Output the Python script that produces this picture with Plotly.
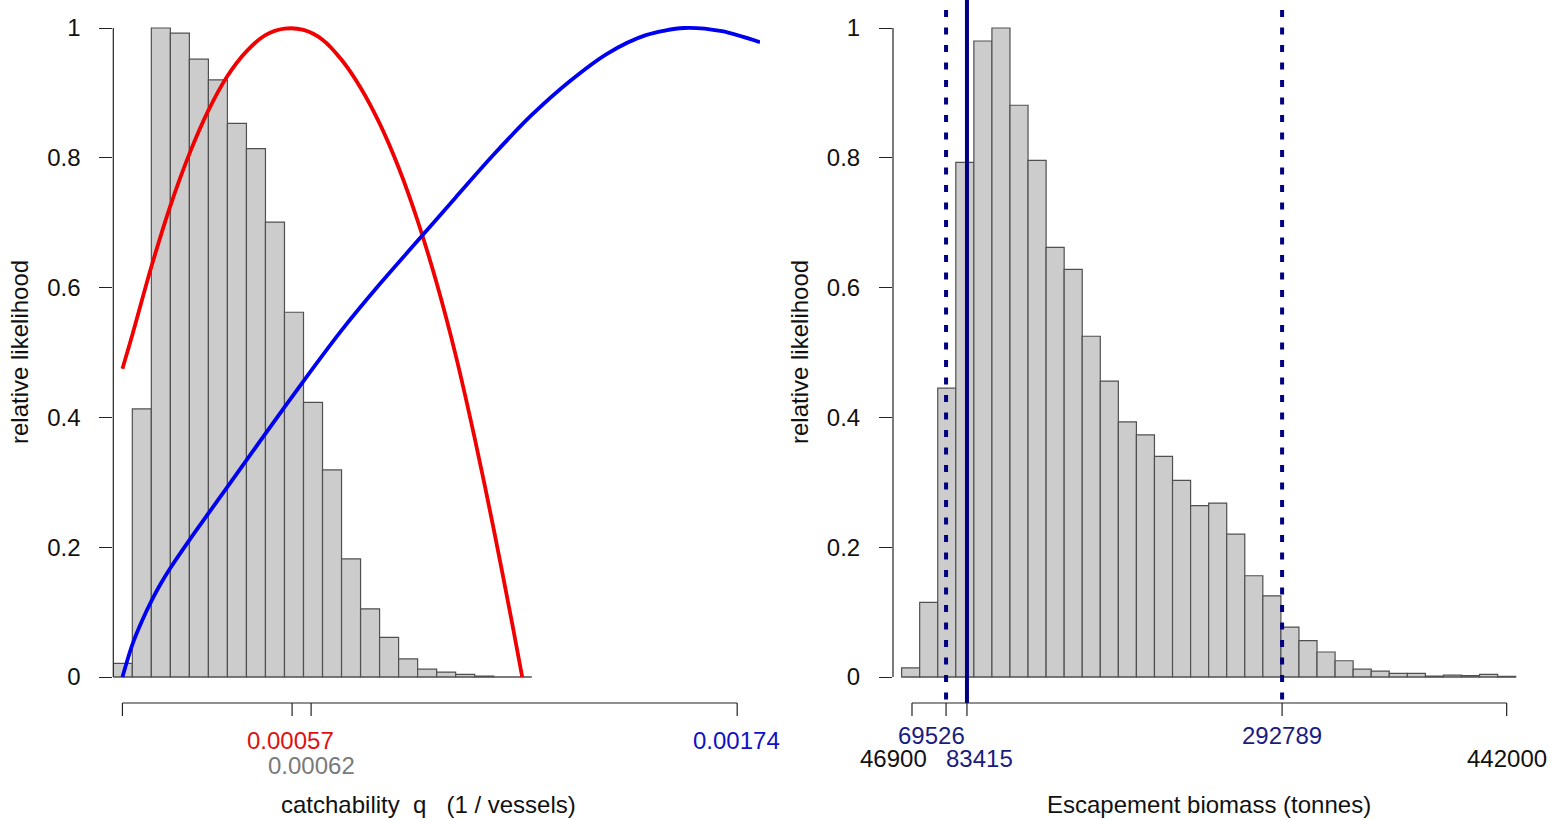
import plotly.graph_objects as go

W, H = 1550, 820

# ---------------- Left panel data: catchability q ----------------
q_bin_start = 0.0001
q_bin_width = 0.00005
q_hist = [0.021, 0.413, 1.0, 0.992, 0.952, 0.920, 0.853, 0.814, 0.701, 0.562,
          0.423, 0.319, 0.182, 0.105, 0.061, 0.028, 0.012, 0.0076, 0.004, 0.0014,
          0.0, 0.0]

red_q = [0.000124, 0.00015, 0.0002, 0.00025, 0.0003, 0.00035, 0.0004, 0.00045,
         0.0005, 0.00055, 0.0006, 0.00065, 0.0007, 0.00075, 0.0008, 0.00085,
         0.0009, 0.00095, 0.001, 0.00105, 0.0011, 0.00115, 0.001175]
red_v = [0.475, 0.527, 0.632, 0.726, 0.806, 0.873, 0.926, 0.964,
         0.989, 0.999, 0.997, 0.982, 0.951, 0.908, 0.853, 0.785,
         0.703, 0.607, 0.496, 0.368, 0.228, 0.078, 0.0]

blue_q = [0.000124, 0.00015, 0.000175, 0.0002, 0.000225, 0.00025, 0.0003, 0.00035,
          0.0004, 0.0005, 0.0006, 0.0007, 0.0008, 0.0009, 0.001, 0.0011,
          0.0012, 0.0013, 0.0014, 0.0015, 0.0016, 0.0017, 0.0018]
blue_v = [0.0, 0.05, 0.086, 0.117, 0.144, 0.168, 0.211, 0.252,
          0.293, 0.375, 0.456, 0.534, 0.605, 0.672, 0.739, 0.805,
          0.866, 0.918, 0.961, 0.989, 1.0, 0.995, 0.978]

q_ticks = [0.000124, 0.00057, 0.00062, 0.00174]
q_labels = ["0.00057", "0.00062", "0.00174"]
q_label_vals = [0.00057, 0.00062, 0.00174]
q_label_colors = ["#E01010", "#7a7a7a", "#1010C8"]
q_label_rows = [1, 2, 1]
q_label_shift = [-2, 0, -1]

# ---------------- Right panel data: escapement biomass ----------------
b_bin_start = 40000
b_bin_width = 12000
b_hist = [0.014, 0.115, 0.445, 0.793, 0.980, 1.0, 0.881, 0.796, 0.662, 0.628,
          0.525, 0.456, 0.393, 0.373, 0.340, 0.303, 0.264, 0.268, 0.220, 0.156,
          0.125, 0.077, 0.056, 0.0385, 0.025, 0.012, 0.009, 0.0055, 0.0055, 0.0014,
          0.003, 0.002, 0.004, 0.001]

b_ci = [69526, 292789]
b_mode = 83415
b_ticks = [46900, 69526, 83415, 292789, 442000]
b_labels = ["46900", "69526", "83415", "292789", "442000"]
b_label_colors = ["#111111", "#1c1c80", "#1c1c80", "#1c1c80", "#111111"]
b_label_rows = [2, 1, 2, 1, 2]
b_label_shift = [-19, -15, 13, 0, 0]

y_ticks = [0, 0.2, 0.4, 0.6, 0.8, 1]
y_ticktext = ["0", "0.2", "0.4", "0.6", "0.8", "1"]

# ---------------- layout geometry (pixels) ----------------
FONT = "Liberation Sans, Arial, sans-serif"
FS = 24
AX = "#222222"
y_px0 = 677.0           # pixel of y=0
y_px1 = 28.0            # pixel of y=1
ppu = y_px0 - y_px1
dom_bottom_px = 720.0
y_range = [(y_px0 - dom_bottom_px) / ppu, y_px0 / ppu]
y_dom = [1 - dom_bottom_px / H, 1]

L_px = [113.3, 760.0]
R_px = [893.0, 1530.0]
L_range = [0.0001, 0.0018]
R_range = [34276, 457500]

def py(p):
    return 1 - p / H

fig = go.Figure()

# left histogram
q_edges = [q_bin_start + i * q_bin_width for i in range(len(q_hist) + 1)]
q_centers = [(q_edges[i] + q_edges[i + 1]) / 2 for i in range(len(q_hist))]
fig.add_trace(go.Bar(x=q_centers, y=q_hist, width=q_bin_width,
                     marker=dict(color="#CCCCCC", line=dict(color="#505050", width=1.2)),
                     xaxis="x", yaxis="y", showlegend=False))
fig.add_trace(go.Scatter(x=[q_edges[0], q_edges[-1]], y=[0, 0], mode="lines",
                         line=dict(color="#505050", width=1.2),
                         xaxis="x", yaxis="y", showlegend=False))
fig.add_trace(go.Scatter(x=red_q, y=red_v, mode="lines",
                         line=dict(color="#F00000", width=3.8, shape="spline", smoothing=0.8),
                         xaxis="x", yaxis="y", showlegend=False))
fig.add_trace(go.Scatter(x=blue_q, y=blue_v, mode="lines",
                         line=dict(color="#0000F0", width=3.8, shape="spline", smoothing=0.8),
                         xaxis="x", yaxis="y", showlegend=False))

# right histogram
b_edges = [b_bin_start + i * b_bin_width for i in range(len(b_hist) + 1)]
b_centers = [(b_edges[i] + b_edges[i + 1]) / 2 for i in range(len(b_hist))]
fig.add_trace(go.Bar(x=b_centers, y=b_hist, width=b_bin_width,
                     marker=dict(color="#CCCCCC", line=dict(color="#505050", width=1.2)),
                     xaxis="x2", yaxis="y2", showlegend=False))
fig.add_trace(go.Scatter(x=[b_edges[0], b_edges[-1]], y=[0, 0], mode="lines",
                         line=dict(color="#505050", width=1.2),
                         xaxis="x2", yaxis="y2", showlegend=False))
for v in b_ci:
    fig.add_trace(go.Scatter(x=[v, v], y=[(y_px0 - 10) / ppu, (y_px0 - 708) / ppu],
                             mode="lines",
                             line=dict(color="#000080", width=4, dash="7px,10.5px"),
                             xaxis="x2", yaxis="y2", showlegend=False))
fig.add_trace(go.Scatter(x=[b_mode, b_mode], y=[y_px0 / ppu, (y_px0 - 703) / ppu],
                         mode="lines", line=dict(color="#000080", width=4),
                         xaxis="x2", yaxis="y2", showlegend=False))

shapes = []
annotations = []

def x_axis(xref, ticks, ax_px=703, tick_len=13):
    shapes.append(dict(type="line", xref=xref, yref="paper",
                       x0=ticks[0], x1=ticks[-1], y0=py(ax_px), y1=py(ax_px),
                       line=dict(color=AX, width=1.2)))
    for t in ticks:
        shapes.append(dict(type="line", xref=xref, yref="paper",
                           x0=t, x1=t, y0=py(ax_px), y1=py(ax_px + tick_len),
                           line=dict(color=AX, width=1.2)))

x_axis("x", q_ticks)
x_axis("x2", b_ticks)

# y axis lines (span 0..1 only, R style)
for xp, yref in [(L_px[0], "y"), (R_px[0], "y2")]:
    shapes.append(dict(type="line", xref="paper", yref=yref,
                       x0=xp / W, x1=xp / W, y0=0, y1=1,
                       line=dict(color=AX, width=1.2)))

row_px = {1: 740, 2: 765}
for lab, v, c, r, s in zip(q_labels, q_label_vals, q_label_colors, q_label_rows, q_label_shift):
    annotations.append(dict(text=lab, x=v, y=py(row_px[r]), xref="x", yref="paper",
                            xanchor="center", yanchor="middle", showarrow=False,
                            xshift=s, borderpad=0,
                            font=dict(family=FONT, size=FS, color=c)))
row_px_b = {1: 735, 2: 758}
for lab, v, c, r, s in zip(b_labels, b_ticks, b_label_colors, b_label_rows, b_label_shift):
    annotations.append(dict(text=lab, x=v, y=py(row_px_b[r]), xref="x2", yref="paper",
                            xanchor="center", yanchor="middle", showarrow=False,
                            xshift=s, borderpad=0,
                            font=dict(family=FONT, size=FS, color=c)))

NB = "\u00a0"
annotations.append(dict(text="catchability" + NB * 2 + "q" + NB * 3 + "(1 / vessels)",
                        x=428 / W, y=py(804), xref="paper", yref="paper",
                        xanchor="center", yanchor="middle", showarrow=False,
                        font=dict(family=FONT, size=FS, color="#111111")))
annotations.append(dict(text="Escapement biomass (tonnes)",
                        x=1209 / W, y=py(804), xref="paper", yref="paper",
                        xanchor="center", yanchor="middle", showarrow=False,
                        font=dict(family=FONT, size=FS, color="#111111")))
for xp in [20, 800]:
    annotations.append(dict(text="relative likelihood", x=xp / W, y=py(352),
                            xref="paper", yref="paper", textangle=-90,
                            xanchor="center", yanchor="middle", showarrow=False,
                            font=dict(family=FONT, size=FS, color="#111111")))

yax_common = dict(range=y_range, domain=y_dom, tickvals=y_ticks, ticktext=y_ticktext,
                  ticks="outside", ticklen=13, tickwidth=1.2, tickcolor=AX,
                  showline=False, showgrid=False, zeroline=False,
                  ticklabelstandoff=14,
                  tickfont=dict(family=FONT, size=FS, color="#111111"))
xax_common = dict(showline=False, showgrid=False, zeroline=False,
                  showticklabels=False, ticks="")

fig.update_layout(
    width=W, height=H,
    margin=dict(l=0, r=0, t=0, b=0),
    paper_bgcolor="white", plot_bgcolor="white",
    showlegend=False, barmode="overlay",
    xaxis=dict(domain=[L_px[0] / W, L_px[1] / W], range=L_range, anchor="y", **xax_common),
    yaxis=dict(anchor="x", **yax_common),
    xaxis2=dict(domain=[R_px[0] / W, R_px[1] / W], range=R_range, anchor="y2", **xax_common),
    yaxis2=dict(anchor="x2", **yax_common),
    shapes=shapes, annotations=annotations,
)

fig.write_html("out.html")
